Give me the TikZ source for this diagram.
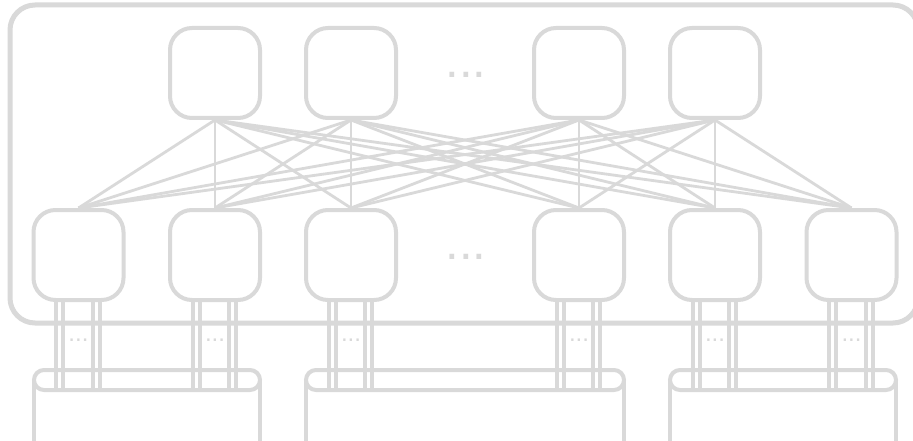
\documentclass[tikz,border=0pt]{standalone}
\usepackage{fontspec}
\setmainfont{Liberation Sans}
\definecolor{lg}{HTML}{D9D9D9}
\begin{document}
\begin{tikzpicture}[x=1pt,y=-1pt,
  sw/.style={draw=lg, line width=4pt, rounded corners=22pt, minimum width=90pt, minimum height=90pt, inner sep=0pt},
  link/.style={draw=lg, line width=2.8pt},
  wire/.style={draw=lg, line width=4pt},
  frame/.style={draw=lg, line width=5pt, rounded corners=25pt},
  rackbox/.style={draw=lg, line width=4pt, rounded corners=10pt},
  rackside/.style={draw=lg, line width=4pt},
  bigdots/.style={text=lg, font=\fontsize{49}{49}\selectfont, inner sep=0pt},
  smalldots/.style={text=lg, font=\fontsize{24}{24}\selectfont, inner sep=0pt}]
\useasboundingbox (0,0) rectangle (913,441);
\clip (0,0) rectangle (913,441);
\fill[white] (0,0) rectangle (913,441);
% outer frame
\draw[frame] (10,5) rectangle (918,323);
% top switches
\node[sw] (t1) at (215,73) {};
\node[sw] (t2) at (351,73) {};
\node[sw] (t3) at (579,73) {};
\node[sw] (t4) at (715,73) {};
\node[bigdots] (td) at (466,75) {...};
% bottom switches
\node[sw] (b1) at (78.5,255) {};
\node[sw] (b2) at (215,255) {};
\node[sw] (b3) at (351,255) {};
\node[sw] (b4) at (579,255) {};
\node[sw] (b5) at (715,255) {};
\node[sw] (b6) at (851.5,255) {};
\node[bigdots] (bd) at (466,257) {...};
% full mesh
\foreach \t in {1,...,4}{
  \foreach \b in {1,...,6}{
    \draw[link] (t\t.south) -- (b\b.north);
  }
}
% racks
\coordinate (barbot) at (0,390);
\draw[rackbox] (34,370) rectangle (260,390);
\draw[rackside] (34,380) -- (34,445) (260,380) -- (260,445);
\draw[rackbox] (306,370) rectangle (624,390);
\draw[rackside] (306,380) -- (306,445) (624,380) -- (624,445);
\draw[rackbox] (670,370) rectangle (896,390);
\draw[rackside] (670,380) -- (670,445) (896,380) -- (896,445);
% wires from bottom switches
\foreach \b in {1,...,6}{
  \foreach \o in {-22.5,-15.5,14,21}{
    \draw[wire] ([xshift=\o pt]b\b.south) -- ([xshift=\o pt]b\b.south |- barbot);
  }
  \path (b\b.south) ++(0,38) node[smalldots] (d\b) {...};
}
\end{tikzpicture}
\end{document}
